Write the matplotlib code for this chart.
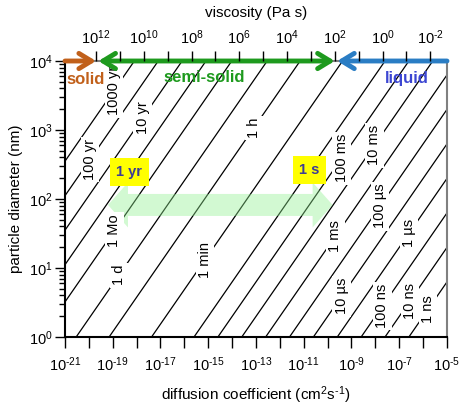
import numpy as np
import matplotlib
matplotlib.use("Agg")
import matplotlib.pyplot as plt
from matplotlib.patches import Polygon

plt.rcParams['font.family'] = ['Liberation Sans', 'DejaVu Sans']
plt.rcParams['mathtext.fontset'] = 'custom'
plt.rcParams['mathtext.rm'] = 'Liberation Sans'
plt.rcParams['mathtext.it'] = 'Liberation Sans:italic'
plt.rcParams['mathtext.bf'] = 'Liberation Sans:bold'
plt.rcParams['axes.unicode_minus'] = False

# mixing time lines: tau = d^2 / (4 pi^2 D)
year = 3.156e7
times = [1e-9, 1e-8, 1e-7, 1e-6, 1e-5, 1e-4, 1e-3, 1e-2, 0.1, 1, 60, 3600,
         86400, 2.63e6, year, 10 * year, 100 * year, 1000 * year]
time_labels = ['1 ns', '10 ns', '100 ns', '1 µs', '10 µs', '100 µs', '1 ms',
               '10 ms', '100 ms', '1 s', '1 min', '1 h', '1 d', '1 Mo',
               '1 yr', '10 yr', '100 yr', '1000 yr']
# particle diameter (nm) where each label sits on its line
label_diam = [2.5, 3.3, 2.8, 32, 3.9, 79, 29, 600, 390, 263, 13, 1070,
              7.9, 35, 246, 1490, 370, 3700]
highlight = ['1 yr', '1 s']

# phase state thresholds (Pa s) and Stokes-Einstein product eta*D
eta_solid = 1e12
eta_liquid = 1e2
eta_D = 10 ** -7.7

# range of the green "mixing" arrow
mix_D = [10 ** -19.2, 10 ** -9.79]
mix_d = 82

D_min, D_max = 1e-21, 1e-5
d_min, d_max = 1, 1e4


def pow_label(k):
    if k < 0:
        return r'$10^{\text{-}%d}$' % (-k)
    return '$10^{%d}$' % k


fig = plt.figure(figsize=(4.6, 4.05), dpi=100)
ax = fig.add_axes([65 / 460, 1 - 337 / 405, 382 / 460, 276 / 405])
ax.set_xscale('log')
ax.set_yscale('log')
ax.set_xlim(D_min, D_max)
ax.set_ylim(d_min, d_max)

D = np.logspace(-21, -5, 400)
for tau in times:
    d_nm = np.sqrt(4 * np.pi ** 2 * D * tau) * 1e7
    ax.plot(D, d_nm, color='black', lw=0.9, zorder=2)

for tau, lab, dl in zip(times, time_labels, label_diam):
    Dl = (dl * 1e-7) ** 2 / (4 * np.pi ** 2 * tau)
    if lab in highlight:
        ax.text(Dl, dl, lab, ha='center', va='center', fontsize=10.5,
                fontweight='bold', color='#3c3c96', zorder=6,
                bbox=dict(boxstyle='square,pad=0.45', facecolor='#ffff00',
                          edgecolor='none'))
    else:
        ax.text(Dl, dl, lab, ha='center', va='center', rotation=90,
                fontsize=10.5, color='black', zorder=4,
                bbox=dict(boxstyle='square,pad=0.15', facecolor='white',
                          edgecolor='none'))

# pale green double arrow (axes fraction coordinates)
def fx(v):
    return (np.log10(v) + 21) / 16

def fy(v):
    return np.log10(v) / 4

x0, x1 = fx(mix_D[0]), fx(mix_D[1])
yc = fy(mix_d)
hl, hh, sh = 20 / 382, 22.5 / 276, 11 / 276
verts = [(x0, yc), (x0 + hl, yc + hh), (x0 + hl, yc + sh), (x1 - hl, yc + sh),
         (x1 - hl, yc + hh), (x1, yc), (x1 - hl, yc - hh), (x1 - hl, yc - sh),
         (x0 + hl, yc - sh), (x0 + hl, yc - hh)]
ax.add_patch(Polygon(verts, closed=True, transform=ax.transAxes,
                     facecolor='#90f090', edgecolor='none', alpha=0.4, zorder=3))

# phase state arrows along the top
orange, green, blue = '#c1601a', '#1e9a1e', '#2a7dc4'
D_solid = eta_D / eta_solid
D_liquid = eta_D / eta_liquid
arrow_kw = dict(lw=3.5, shrinkA=0, shrinkB=0, mutation_scale=10)
head = ',head_length=0.9,head_width=0.55'
ax.annotate('', xy=(D_solid, d_max), xytext=(D_min, d_max), annotation_clip=False,
            arrowprops=dict(arrowstyle='->' + head, color=orange, **arrow_kw), zorder=7)
ax.annotate('', xy=(D_liquid, d_max), xytext=(D_solid * 1.25, d_max), annotation_clip=False,
            arrowprops=dict(arrowstyle='<->' + head, color=green, **arrow_kw), zorder=7)
ax.annotate('', xy=(D_liquid * 1.25, d_max), xytext=(D_max, d_max), annotation_clip=False,
            arrowprops=dict(arrowstyle='->' + head, color=blue, **arrow_kw), zorder=7)

ax.text(fx(10 ** -20.12), fy(10 ** 3.73), 'solid', transform=ax.transAxes,
        ha='center', va='center', fontsize=12, fontweight='bold', color=orange, zorder=8)
ax.text(fx(10 ** -15.15), fy(10 ** 3.76), 'semi-solid', transform=ax.transAxes,
        ha='center', va='center', fontsize=12, fontweight='bold', color=green, zorder=8)
ax.text(fx(10 ** -6.7), fy(10 ** 3.75), 'liquid', transform=ax.transAxes,
        ha='center', va='center', fontsize=12, fontweight='bold', color='#3c46d2', zorder=8)

# axes styling
for s in ['left', 'bottom']:
    ax.spines[s].set_linewidth(1.5)
for s in ['top', 'right']:
    ax.spines[s].set_color('#808080')
    ax.spines[s].set_linewidth(1.5)

xk = np.arange(-21, -4)
ax.set_xticks(10.0 ** xk)
ax.set_xticklabels([pow_label(k) if k % 2 else '' for k in xk])
ax.xaxis.set_minor_locator(matplotlib.ticker.NullLocator())
yk = np.arange(0, 5)
ax.set_yticks(10.0 ** yk)
ax.set_yticklabels([pow_label(k) for k in yk])
ax.tick_params(axis='x', direction='out', length=8, width=1, labelsize=10.5, pad=5)
ax.tick_params(axis='y', which='major', direction='out', length=7, width=1,
               labelsize=10.5, pad=2)
ax.tick_params(axis='y', which='minor', direction='out', length=4, width=1)
ax.set_xlabel(r'diffusion coefficient (cm$^{2}$s$^{\text{-}1}$)', fontsize=11, labelpad=8)
ax.set_ylabel('particle diameter (nm)', fontsize=11, labelpad=4)

# viscosity axis on top
ax2 = ax.twiny()
ax2.set_xscale('log')
ax2.set_xlim(ax.get_xlim())
eta_k = np.arange(12, -3, -1)
ax2.set_xticks(eta_D / 10.0 ** eta_k)
ax2.set_xticklabels([pow_label(k) if k % 2 == 0 else '' for k in eta_k])
ax2.xaxis.set_minor_locator(matplotlib.ticker.NullLocator())
ax2.tick_params(axis='x', direction='out', length=7, width=1, labelsize=10.5, pad=3)
for s in ax2.spines.values():
    s.set_visible(False)
ax2.set_xlabel('viscosity (Pa s)', fontsize=11, labelpad=8)

fig.savefig('out.png', dpi=100)
